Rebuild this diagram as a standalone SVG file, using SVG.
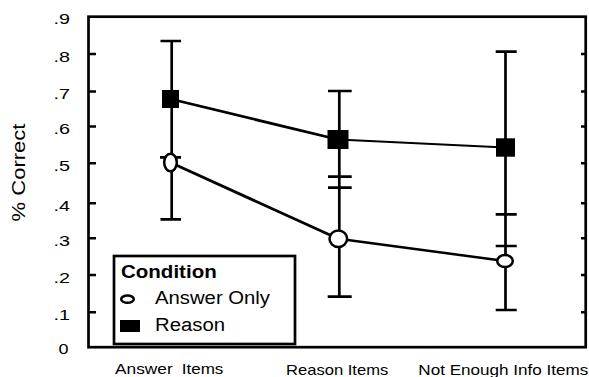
<svg xmlns="http://www.w3.org/2000/svg" width="589" height="377" viewBox="0 0 589 377">
<style>
text{font-family:"Liberation Sans",Arial,sans-serif;fill:#000}
.tl{font-size:15px;text-anchor:end}
.ax{fill:none;stroke:#000;stroke-width:2.7}
.tk{stroke:#000;stroke-width:2.5}
.eb{stroke:#000;stroke-width:2.7;fill:none}
.ln{stroke:#000;fill:none;stroke-linejoin:round}
.sq{fill:#000}
.ci{fill:#fff;stroke:#000;stroke-width:2.5}
</style>
<rect width="589" height="377" fill="#fff"/>
<g id="axes">
<rect class="ax" x="88.5" y="16.7" width="497.2" height="330.5"/>
<path class="tk" d="M88 54H96M88 91.5H96M88 126.5H96M88 163.3H96M88 203.3H96M88 238.3H96M88 275H96M88 312.3H96"/>
<path class="tk" d="M581 54H586M581 91.5H586M581 126.5H586M581 163.3H586M581 203.3H586M581 238.3H586M581 275H586M581 312.3H586"/>
<text class="tl" x="70" y="24.3" textLength="16.5" lengthAdjust="spacingAndGlyphs">.9</text>
<text class="tl" x="70" y="61.5" textLength="16.5" lengthAdjust="spacingAndGlyphs">.8</text>
<text class="tl" x="70" y="99" textLength="16.5" lengthAdjust="spacingAndGlyphs">.7</text>
<text class="tl" x="70" y="134" textLength="16.5" lengthAdjust="spacingAndGlyphs">.6</text>
<text class="tl" x="70" y="170.8" textLength="16.5" lengthAdjust="spacingAndGlyphs">.5</text>
<text class="tl" x="70" y="210.8" textLength="16.5" lengthAdjust="spacingAndGlyphs">.4</text>
<text class="tl" x="70" y="245.8" textLength="16.5" lengthAdjust="spacingAndGlyphs">.3</text>
<text class="tl" x="70" y="282.5" textLength="16.5" lengthAdjust="spacingAndGlyphs">.2</text>
<text class="tl" x="70" y="319.8" textLength="16.5" lengthAdjust="spacingAndGlyphs">.1</text>
<text class="tl" x="68.5" y="354" textLength="10" lengthAdjust="spacingAndGlyphs">0</text>
<text x="0" y="0" transform="translate(24.5,172.5) rotate(-90)" font-size="18" text-anchor="middle" textLength="98" lengthAdjust="spacingAndGlyphs">% Correct</text>
<text x="115" y="374.3" font-size="15" textLength="57.7" lengthAdjust="spacingAndGlyphs">Answer</text>
<text x="181.7" y="374.3" font-size="15" textLength="41.7" lengthAdjust="spacingAndGlyphs">Items</text>
<text x="286" y="375" font-size="15" textLength="102.3" lengthAdjust="spacingAndGlyphs">Reason Items</text>
<text x="418.3" y="375" font-size="15" textLength="170" lengthAdjust="spacingAndGlyphs">Not Enough Info Items</text>
</g>
<g id="connectors">
<path class="eb" d="M171.7 41V219.3M160.5 41H181M160 157.3H181M160.5 219.3H181"/>
<path class="eb" d="M339.3 91V296.7M328 91H351.7M328 176.7H351.7M328 187.7H351.7M327.7 296.7H351.7"/>
<path class="eb" d="M505.5 51.7V310M495.7 51.7H516.7M495.7 214.3H516.7M495.7 246H516.7M495.7 310H516.7"/>
<path class="ln" stroke-width="2.8" d="M170.5 99L338 139.5"/>
<path class="ln" stroke-width="2.2" d="M338 139.5L505 147.5"/>
<path class="ln" stroke-width="2.8" d="M170.5 162.5L338.3 238.8"/>
<path class="ln" stroke-width="2.5" d="M338.3 238.8L505 261"/>
</g>
<g id="reason-answer-items"><rect class="sq" x="162" y="90" width="17" height="18"/></g>
<g id="reason-reason-items"><rect class="sq" x="327.5" y="130" width="21" height="19"/></g>
<g id="reason-not-enough"><rect class="sq" x="496" y="138.3" width="19" height="18.4"/></g>
<g id="answer-answer-items"><ellipse class="ci" cx="170.5" cy="162.5" rx="6.3" ry="8.8"/></g>
<g id="answer-reason-items"><ellipse class="ci" cx="338.3" cy="238.8" rx="8.8" ry="8.3"/></g>
<g id="answer-not-enough"><ellipse class="ci" cx="505" cy="261" rx="7.8" ry="6"/></g>
<g id="legend">
<rect x="114" y="256" width="181" height="88" fill="#fff" stroke="#000" stroke-width="2.7"/>
<text x="121" y="278" font-size="18.5" font-weight="bold" textLength="95.7" lengthAdjust="spacingAndGlyphs">Condition</text>
<ellipse cx="127.5" cy="299.2" rx="6.3" ry="3.6" fill="#fff" stroke="#000" stroke-width="2.5"/>
<text x="155" y="304.3" font-size="18" textLength="115" lengthAdjust="spacingAndGlyphs">Answer Only</text>
<rect x="120" y="320" width="20" height="12" fill="#000"/>
<text x="155" y="331" font-size="18" textLength="70" lengthAdjust="spacingAndGlyphs">Reason</text>
</g>
</svg>
